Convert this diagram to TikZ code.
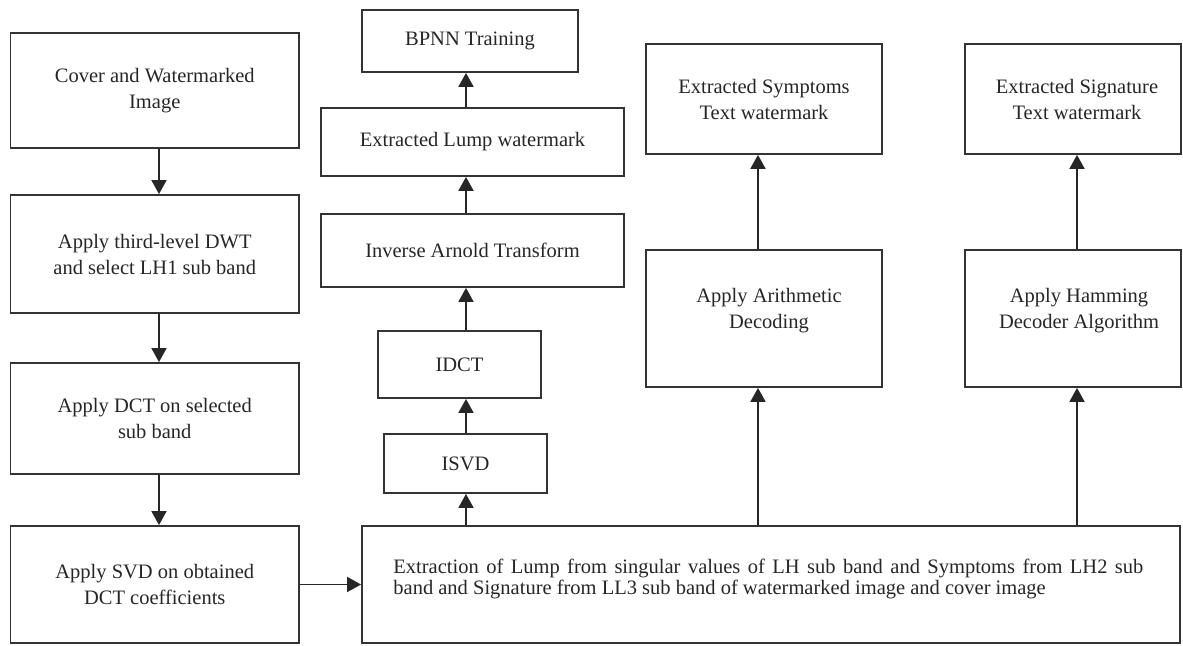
\documentclass[tikz,border=0pt]{standalone}
\usepackage{fontspec}
\setmainfont{Liberation Serif}
\usetikzlibrary{arrows.meta}
\begin{document}
\begin{tikzpicture}[x=0.5pt,y=-0.5pt,
  box/.style={draw=black!80,line width=0.9pt,inner sep=0pt,align=center,
    font=\fontsize{10.25pt}{13pt}\selectfont,text=black!85},
  txt/.style={inner sep=0pt,align=center,font=\fontsize{10.25pt}{13pt}\selectfont,text=black!85},
  arr/.style={draw=black!85,line width=0.9pt,-{Triangle[width=7.5pt,length=7pt]}}]
\useasboundingbox (0,0) rectangle (1183,646);
% left column
\node[box,minimum width=144.25pt,minimum height=57.5pt] (cover) at (154.75,90.5) {Cover and Watermarked\\Image};
\node[box,minimum width=144.25pt,minimum height=59pt] (dwt) at (154.75,254) {Apply third-level DWT\\and select LH1 sub band};
\node[box,minimum width=144.25pt,minimum height=55.5pt] (dct) at (154.75,418.5) {Apply DCT on selected\\sub band};
\node[box,minimum width=144.25pt,minimum height=58.5pt] (svd) at (154.75,584.5) {Apply SVD on obtained\\DCT coefficients};
% big box
\node[box,minimum width=409pt,minimum height=58.5pt] (big) at (771,584.5) {};
\node[txt,anchor=west,align=left,font=\fontsize{10.25pt}{10.5pt}\selectfont] (bigT) at (393,578.5)
  {\makebox[375pt][s]{Extraction of Lump from singular values of LH sub band and Symptoms from LH2 sub}\\band and Signature from LL3 sub band of watermarked image and cover image};
% middle column
\node[box,minimum width=81.5pt,minimum height=29.5pt] (isvd) at (465.5,463.5) {ISVD};
\node[box,minimum width=81.5pt,minimum height=33.5pt] (idct) at (459.5,364.5) {IDCT};
\node[box,minimum width=151.5pt,minimum height=36.5pt] (arnold) at (472.5,250.5) {Inverse Arnold Transform};
\node[box,minimum width=151.5pt,minimum height=34pt] (lump) at (472.5,142) {Extracted Lump watermark};
\node[box,minimum width=108pt,minimum height=31pt] (bpnn) at (470,41) {BPNN Training};
% right columns
\node[box,minimum width=118pt,minimum height=55pt] (sym) at (764,99) {Extracted Symptoms\\Text watermark};
\node[box,minimum width=118pt,minimum height=68.5pt] (arith) at (764,318.5) {};
\node[txt] (arithT) at (769,311) {Apply Arithmetic\\Decoding};
\node[box,minimum width=108pt,minimum height=55pt] (sig) at (1073,99) {};
\node[txt] (sigT) at (1077,99) {Extracted Signature\\Text watermark};
\node[box,minimum width=108pt,minimum height=68.5pt] (ham) at (1073,318.5) {};
\node[txt] (hamT) at (1079,311) {Apply Hamming\\Decoder Algorithm};
% column coordinates
\coordinate (c1) at (159,0);
\coordinate (c2) at (466,0);
\coordinate (c3) at (758,0);
\coordinate (c4) at (1077,0);
% arrows
\draw[arr] (cover.south -| c1) -- (dwt.north -| c1);
\draw[arr] (dwt.south -| c1) -- (dct.north -| c1);
\draw[arr] (dct.south -| c1) -- (svd.north -| c1);
\draw[arr] (svd.east) -- (big.west);
\draw[arr] (big.north -| c2) -- (isvd.south -| c2);
\draw[arr] (isvd.north -| c2) -- (idct.south -| c2);
\draw[arr] (idct.north -| c2) -- (arnold.south -| c2);
\draw[arr] (arnold.north -| c2) -- (lump.south -| c2);
\draw[arr] (lump.north -| c2) -- (bpnn.south -| c2);
\draw[arr] (big.north -| c3) -- (arith.south -| c3);
\draw[arr] (arith.north -| c3) -- (sym.south -| c3);
\draw[arr] (big.north -| c4) -- (ham.south -| c4);
\draw[arr] (ham.north -| c4) -- (sig.south -| c4);
\end{tikzpicture}
\end{document}
